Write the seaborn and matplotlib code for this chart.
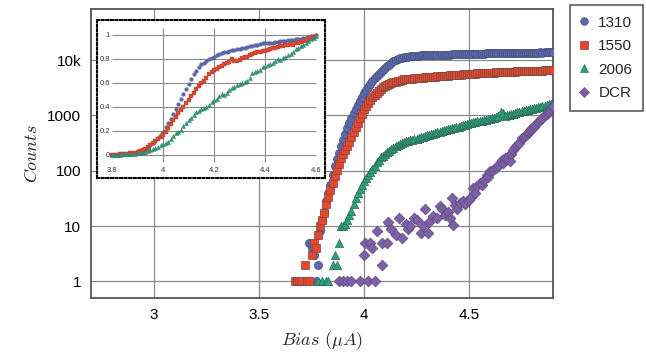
import numpy as np
import pandas as pd
import matplotlib
matplotlib.use("Agg")
import matplotlib.pyplot as plt
import seaborn as sns
from matplotlib.lines import Line2D

# ---------------- data ----------------
series_names = ["1310", "1550", "2006", "DCR"]

bias = [
    3.67, 3.68, 3.69, 3.70, 3.71, 3.72, 3.73, 3.74, 3.75, 3.76,
    3.77, 3.78, 3.79, 3.80, 3.81, 3.82, 3.83, 3.84, 3.85, 3.86,
    3.87, 3.88, 3.89, 3.90, 3.91, 3.92, 3.93, 3.94, 3.95, 3.96,
    3.97, 3.98, 3.99, 4.00, 4.01, 4.02, 4.03, 4.04, 4.05, 4.06,
    4.07, 4.08, 4.09, 4.10, 4.11, 4.12, 4.13, 4.14, 4.15, 4.16,
    4.17, 4.18, 4.19, 4.20, 4.21, 4.22, 4.23, 4.24, 4.25, 4.26,
    4.27, 4.28, 4.29, 4.30, 4.31, 4.32, 4.33, 4.34, 4.35, 4.36,
    4.37, 4.38, 4.39, 4.40, 4.41, 4.42, 4.43, 4.44, 4.45, 4.46,
    4.47, 4.48, 4.49, 4.50, 4.51, 4.52, 4.53, 4.54, 4.55, 4.56,
    4.57, 4.58, 4.59, 4.60, 4.61, 4.62, 4.63, 4.64, 4.65, 4.66,
    4.67, 4.68, 4.69, 4.70, 4.71, 4.72, 4.73, 4.74, 4.75, 4.76,
    4.77, 4.78, 4.79, 4.80, 4.81, 4.82, 4.83, 4.84, 4.85, 4.86,
    4.87, 4.88, 4.89, 4.90,
]

counts_1310 = [
    None, None, None, None, None, None, None, 5, 4, 3,
    1, 2, 8, 13, 18, 28, 40, 56, 83, 120,
    160, 210, 275, 360, 470, 590, 740, 910, 1100, 1320,
    1550, 1820, 2190, 2510, 2880, 3240, 3720, 4170, 4680, 5130,
    5620, 6030, 6610, 7080, 7760, 8320, 8910, 9550, 10000, 10470,
    10720, 10960, 11220, 11480, 11600, 11750, 11850, 11950, 12020, 12100,
    12150, 12200, 12250, 12300, 12320, 12350, 12380, 12400, 12420, 12450,
    12480, 12500, 12550, 12590, 12600, 12650, 12700, 12680, 12750, 12800,
    12780, 12850, 12900, 12880, 12950, 13000, 12980, 13050, 13100, 13080,
    13150, 13200, 13180, 13180, 13250, 13300, 13280, 13350, 13320, 13400,
    13380, 13450, 13420, 13350, 13450, 13500, 13480, 13550, 13520, 13600,
    13580, 13650, 13600, 13500, 13650, 13700, 13680, 13750, 13720, 13800,
    13780, 13850, 13820, 13800,
]

counts_1550 = [
    1, 1, 1, 1, None, 2, 1, 1, 3, 5,
    4, 7, 10, 13, 17, 25, 33, 45, 60, 80,
    105, 135, 170, 200, 235, 275, 330, 410, 500, 615,
    740, 890, 1070, 1290, 1480, 1700, 1900, 2140, 2340, 2570,
    2820, 3020, 3240, 3390, 3550, 3720, 3890, 3980, 4070, 4170,
    4270, 4370, 4470, 4520, 4560, 4600, 4640, 4680, 4720, 4760,
    4800, 4840, 4870, 4900, 4930, 4960, 5000, 5030, 5060, 5100,
    5130, 5160, 5200, 5250, 5280, 5310, 5350, 5380, 5420, 5460,
    5500, 5540, 5580, 5620, 5650, 5670, 5700, 5730, 5760, 5790,
    5810, 5840, 5870, 5890, 5920, 5950, 5980, 6000, 6030, 6060,
    6090, 6110, 6140, 6170, 6190, 6210, 6230, 6250, 6270, 6290,
    6310, 6330, 6360, 6380, 6400, 6420, 6440, 6460, 6480, 6510,
    6540, 6570, 6590, 6610,
]

counts_2006 = [
    None, None, None, None, None, None, None, None, None, None,
    None, 1, None, 1, None, 1, 1, None, 2, 3,
    2, 5, 10, 10, 11, 13, 16, 19, 25, 32,
    40, 47, 56, 66, 74, 83, 93, 107, 120, 141,
    158, 174, 186, 200, 214, 229, 245, 263, 282, 292,
    304, 316, 328, 340, 348, 356, 364, 372, 380, 391,
    402, 413, 424, 435, 447, 459, 471, 484, 500, 511,
    523, 535, 547, 560, 573, 585, 598, 612, 630, 645,
    665, 685, 705, 725, 738, 752, 766, 780, 795, 809,
    824, 839, 854, 870, 885, 900, 940, 990, 1175, 1120,
    980, 1000, 1025, 1050, 1080, 1110, 1140, 1170, 1200, 1220,
    1245, 1270, 1295, 1320, 1350, 1380, 1410, 1440, 1480, 1510,
    1550, 1580, 1620, 1660,
]

dcr_bias = [
    3.88, 3.90, 3.92, 3.94, 3.98, 4.02, 4.05,
    4.00, 4.005, 4.03, 4.04, 4.06, 4.085, 4.11, 4.087, 4.115, 4.13, 4.15,
    4.165, 4.18, 4.20, 4.21, 4.22, 4.24, 4.25, 4.27, 4.28, 4.29, 4.305,
    4.31, 4.33, 4.35, 4.36, 4.37, 4.385, 4.40, 4.41, 4.42, 4.425, 4.435,
    4.445, 4.455, 4.47, 4.48, 4.50, 4.51, 4.52, 4.53, 4.54, 4.55, 4.56,
    4.57, 4.585, 4.59, 4.60, 4.615, 4.63, 4.64, 4.655, 4.66, 4.67, 4.68,
    4.69, 4.695, 4.70, 4.71, 4.72, 4.73, 4.74, 4.75, 4.76, 4.77, 4.78,
    4.785, 4.79, 4.80, 4.81, 4.815, 4.83, 4.84, 4.85, 4.86, 4.87, 4.88,
    4.89, 4.895, 4.90,
]
dcr_counts = [
    1, 1, 1, 1, 1, 1, 1,
    3, 5, 5, 4, 8, 5, 5, 2, 12, 9, 7,
    14, 6, 11, 9, 10, 14, 13, 7.5, 10, 20, 7.6,
    12, 15, 14, 23, 20, 16, 18, 14, 32, 10.6, 24.5,
    20, 26, 28, 25, 30, 34, 48, 40, 52, 60, 55,
    69, 85, 78, 97, 104, 112, 125, 158, 140, 170, 165,
    181, 147, 200, 240, 274, 290, 315, 390, 410, 445, 480,
    510, 540, 585, 630, 675, 775, 830, 890, 1010, 1080, 1160,
    1300, 1440, 1500,
]

# inset: normalised counts
inset_bias = [
    3.80, 3.81, 3.82, 3.83, 3.84, 3.85, 3.86, 3.87, 3.88, 3.89,
    3.90, 3.91, 3.92, 3.93, 3.94, 3.95, 3.96, 3.97, 3.98, 3.99,
    4.00, 4.01, 4.02, 4.03, 4.04, 4.05, 4.06, 4.07, 4.08, 4.09,
    4.10, 4.11, 4.12, 4.13, 4.14, 4.15, 4.16, 4.17, 4.18, 4.19,
    4.20, 4.21, 4.22, 4.23, 4.24, 4.25, 4.26, 4.27, 4.28, 4.29,
    4.30, 4.31, 4.32, 4.33, 4.34, 4.35, 4.36, 4.37, 4.38, 4.39,
    4.40, 4.41, 4.42, 4.43, 4.44, 4.45, 4.46, 4.47, 4.48, 4.49,
    4.50, 4.51, 4.52, 4.53, 4.54, 4.55, 4.56, 4.57, 4.58, 4.59,
    4.60,
]
inset_1310 = [
    0, 0, 0.002, 0.003, 0.004, 0.005, 0.007, 0.009, 0.011, 0.013,
    0.016, 0.02, 0.03, 0.045, 0.06, 0.08, 0.10, 0.12, 0.14, 0.165,
    0.19, 0.23, 0.265, 0.30, 0.34, 0.385, 0.425, 0.47, 0.51, 0.55,
    0.59, 0.63, 0.675, 0.70, 0.73, 0.755, 0.77, 0.785, 0.80, 0.81,
    0.82, 0.83, 0.84, 0.85, 0.857, 0.862, 0.868, 0.874, 0.878, 0.882,
    0.886, 0.89, 0.895, 0.90, 0.905, 0.91, 0.915, 0.92, 0.925, 0.93,
    0.932, 0.934, 0.935, 0.937, 0.94, 0.943, 0.946, 0.949, 0.952, 0.955,
    0.958, 0.96, 0.963, 0.966, 0.97, 0.974, 0.978, 0.984, 0.99, 0.995,
    1.0,
]
inset_1550 = [
    0, 0.001, 0.002, 0.004, 0.006, 0.008, 0.01, 0.013, 0.016, 0.02,
    0.025, 0.03, 0.04, 0.05, 0.065, 0.083, 0.10, 0.115, 0.13, 0.15,
    0.17, 0.195, 0.225, 0.26, 0.29, 0.32, 0.35, 0.375, 0.40, 0.43,
    0.46, 0.49, 0.52, 0.55, 0.575, 0.60, 0.62, 0.645, 0.675, 0.69,
    0.705, 0.715, 0.73, 0.745, 0.76, 0.77, 0.775, 0.80, 0.78, 0.785,
    0.795, 0.81, 0.815, 0.82, 0.83, 0.84, 0.85, 0.855, 0.86, 0.865,
    0.87, 0.875, 0.88, 0.89, 0.895, 0.90, 0.905, 0.91, 0.915, 0.92,
    0.925, 0.92, 0.93, 0.935, 0.94, 0.95, 0.96, 0.97, 0.975, 0.985,
    0.99,
]
inset_2006 = [
    0, 0.001, 0.002, 0.003, 0.004, 0.005, 0.006, 0.008, 0.01, 0.012,
    0.013, 0.015, 0.02, 0.025, 0.03, 0.04, 0.05, 0.06, 0.07, 0.08,
    0.09, 0.097, 0.11, 0.13, 0.155, 0.18, 0.19, 0.21, 0.24, 0.265,
    0.29, 0.31, 0.335, 0.36, 0.37, 0.385, 0.39, 0.40, 0.42, 0.44,
    0.455, 0.47, 0.49, 0.51, 0.50, 0.52, 0.54, 0.555, 0.57, 0.585,
    0.59, 0.60, 0.61, 0.62, 0.64, 0.68, 0.69, 0.70, 0.71, 0.73,
    0.74, 0.75, 0.755, 0.77, 0.78, 0.80, 0.79, 0.81, 0.82, 0.83,
    0.84, 0.86, 0.88, 0.89, 0.91, 0.92, 0.935, 0.95, 0.965, 0.975,
    0.99,
]

y_ticks = [1, 10, 100, 1000, 10000]
y_tick_labels = ["1", "10", "100", "1000", "10k"]
x_ticks = [3, 3.5, 4, 4.5]
x_tick_labels = ["3", "3.5", "4", "4.5"]
inset_x_ticks = [3.8, 4.0, 4.2, 4.4, 4.6]
inset_x_labels = ["3.8", "4", "4.2", "4.4", "4.6"]
inset_y_ticks = [0, 0.2, 0.4, 0.6, 0.8, 1.0]
inset_y_labels = ["0", "0.2", "0.4", "0.6", "0.8", "1"]

# ---------------- style ----------------
sns.set_style("white")
plt.rcParams["font.family"] = ["Liberation Sans", "DejaVu Sans"]
plt.rcParams["mathtext.fontset"] = "cm"

colors = {"1310": "#5b69b1", "1550": "#e5472e", "2006": "#2ba27f", "DCR": "#7f60a8"}
edges = {"1310": "#4b4f78", "1550": "#7a4a44", "2006": "#2f6a58", "DCR": "#5d4c7c"}
markers = {"1310": "o", "1550": "s", "2006": "^", "DCR": "D"}
sizes = {"1310": 34, "1550": 34, "2006": 36, "DCR": 30}

W, H = 646, 356
fig = plt.figure(figsize=(W / 100, H / 100), dpi=100)
ax = fig.add_axes([91 / W, 58 / H, 462 / W, 289 / H])

main_sets = [
    ("1310", bias, counts_1310),
    ("1550", bias, counts_1550),
    ("2006", bias, counts_2006),
    ("DCR", dcr_bias, dcr_counts),
]
for name, xs, ys in main_sets:
    df = pd.DataFrame({"bias": xs, "counts": pd.to_numeric(pd.Series(ys), errors="coerce")}).dropna()
    sns.scatterplot(data=df, x="bias", y="counts", ax=ax, marker=markers[name],
                    s=sizes[name], color=colors[name], edgecolor=edges[name],
                    linewidth=0.5, legend=False, zorder=3)

ax.set_yscale("log")
ax.set_xlim(2.7, 4.9)
ax.set_ylim(0.5, 84000)
ax.set_yticks(y_ticks)
ax.set_yticklabels(y_tick_labels)
ax.minorticks_off()
ax.set_xticks(x_ticks)
ax.set_xticklabels(x_tick_labels)
ax.grid(True, color="#8a8a8a", lw=0.9)
ax.set_axisbelow(True)
for sp in ax.spines.values():
    sp.set_color("#555555")
    sp.set_linewidth(1.3)
ax.tick_params(axis="both", direction="out", length=4, width=0.8, color="#777777",
               labelsize=11, labelcolor="black", pad=3)
ax.set_xlabel(r"$Bias\ (\mu A)$", fontsize=13, labelpad=5.5)
ax.set_ylabel(r"$Counts$", fontsize=13, labelpad=4.5)

# legend
handles = [Line2D([], [], ls="none", marker=markers[n], markersize=5.5 if n != "DCR" else 5,
                  markerfacecolor=colors[n], markeredgecolor=edges[n], markeredgewidth=0.5)
           for n in series_names]
leg = fig.legend(handles, series_names, loc="upper left",
                 bbox_to_anchor=(570 / W, 1 - 5 / H), frameon=True, fancybox=False,
                 edgecolor="#222222", fontsize=11, handlelength=0.4, handletextpad=0.75,
                 labelspacing=0.62, borderpad=0.7, borderaxespad=0)
leg.get_frame().set_linewidth(1.1)

# ---------------- inset ----------------
axin = fig.add_axes([97 / W, (H - 178) / H, 228 / W, 158 / H])
axin.set_facecolor("white")
inset_sets = [("1310", inset_1310, 7), ("1550", inset_1550, 11), ("2006", inset_2006, 9)]
for name, ys, s in inset_sets:
    df = pd.DataFrame({"bias": inset_bias, "norm": ys})
    sns.scatterplot(data=df, x="bias", y="norm", ax=axin, marker=markers[name], s=s,
                    color=colors[name], edgecolor=edges[name], linewidth=0.25,
                    legend=False, zorder=3)
axin.set_xlim(3.741, 4.635)
axin.set_ylim(-0.192, 1.125)
axin.hlines(inset_y_ticks, inset_x_ticks[0], inset_x_ticks[-1], color="#8a8a8a", lw=0.8, zorder=1)
axin.vlines(inset_x_ticks[1:-1], -0.06, 1.06, color="#8a8a8a", lw=0.8, zorder=1)
axin.set_xticks(inset_x_ticks)
axin.set_xticklabels(inset_x_labels)
axin.set_yticks(inset_y_ticks)
axin.set_yticklabels(inset_y_labels)
axin.tick_params(axis="x", length=0, labelsize=5.5, pad=-7.9, labelcolor="#333333")
axin.tick_params(axis="y", length=0, labelsize=5.5, pad=-9.4, labelcolor="#333333")
axin.set_xlabel("")
axin.set_ylabel("")
for sp in axin.spines.values():
    sp.set_linestyle((0, (1, 1.2)))
    sp.set_linewidth(1.5)
    sp.set_color("black")

fig.savefig("out.png", dpi=100)
